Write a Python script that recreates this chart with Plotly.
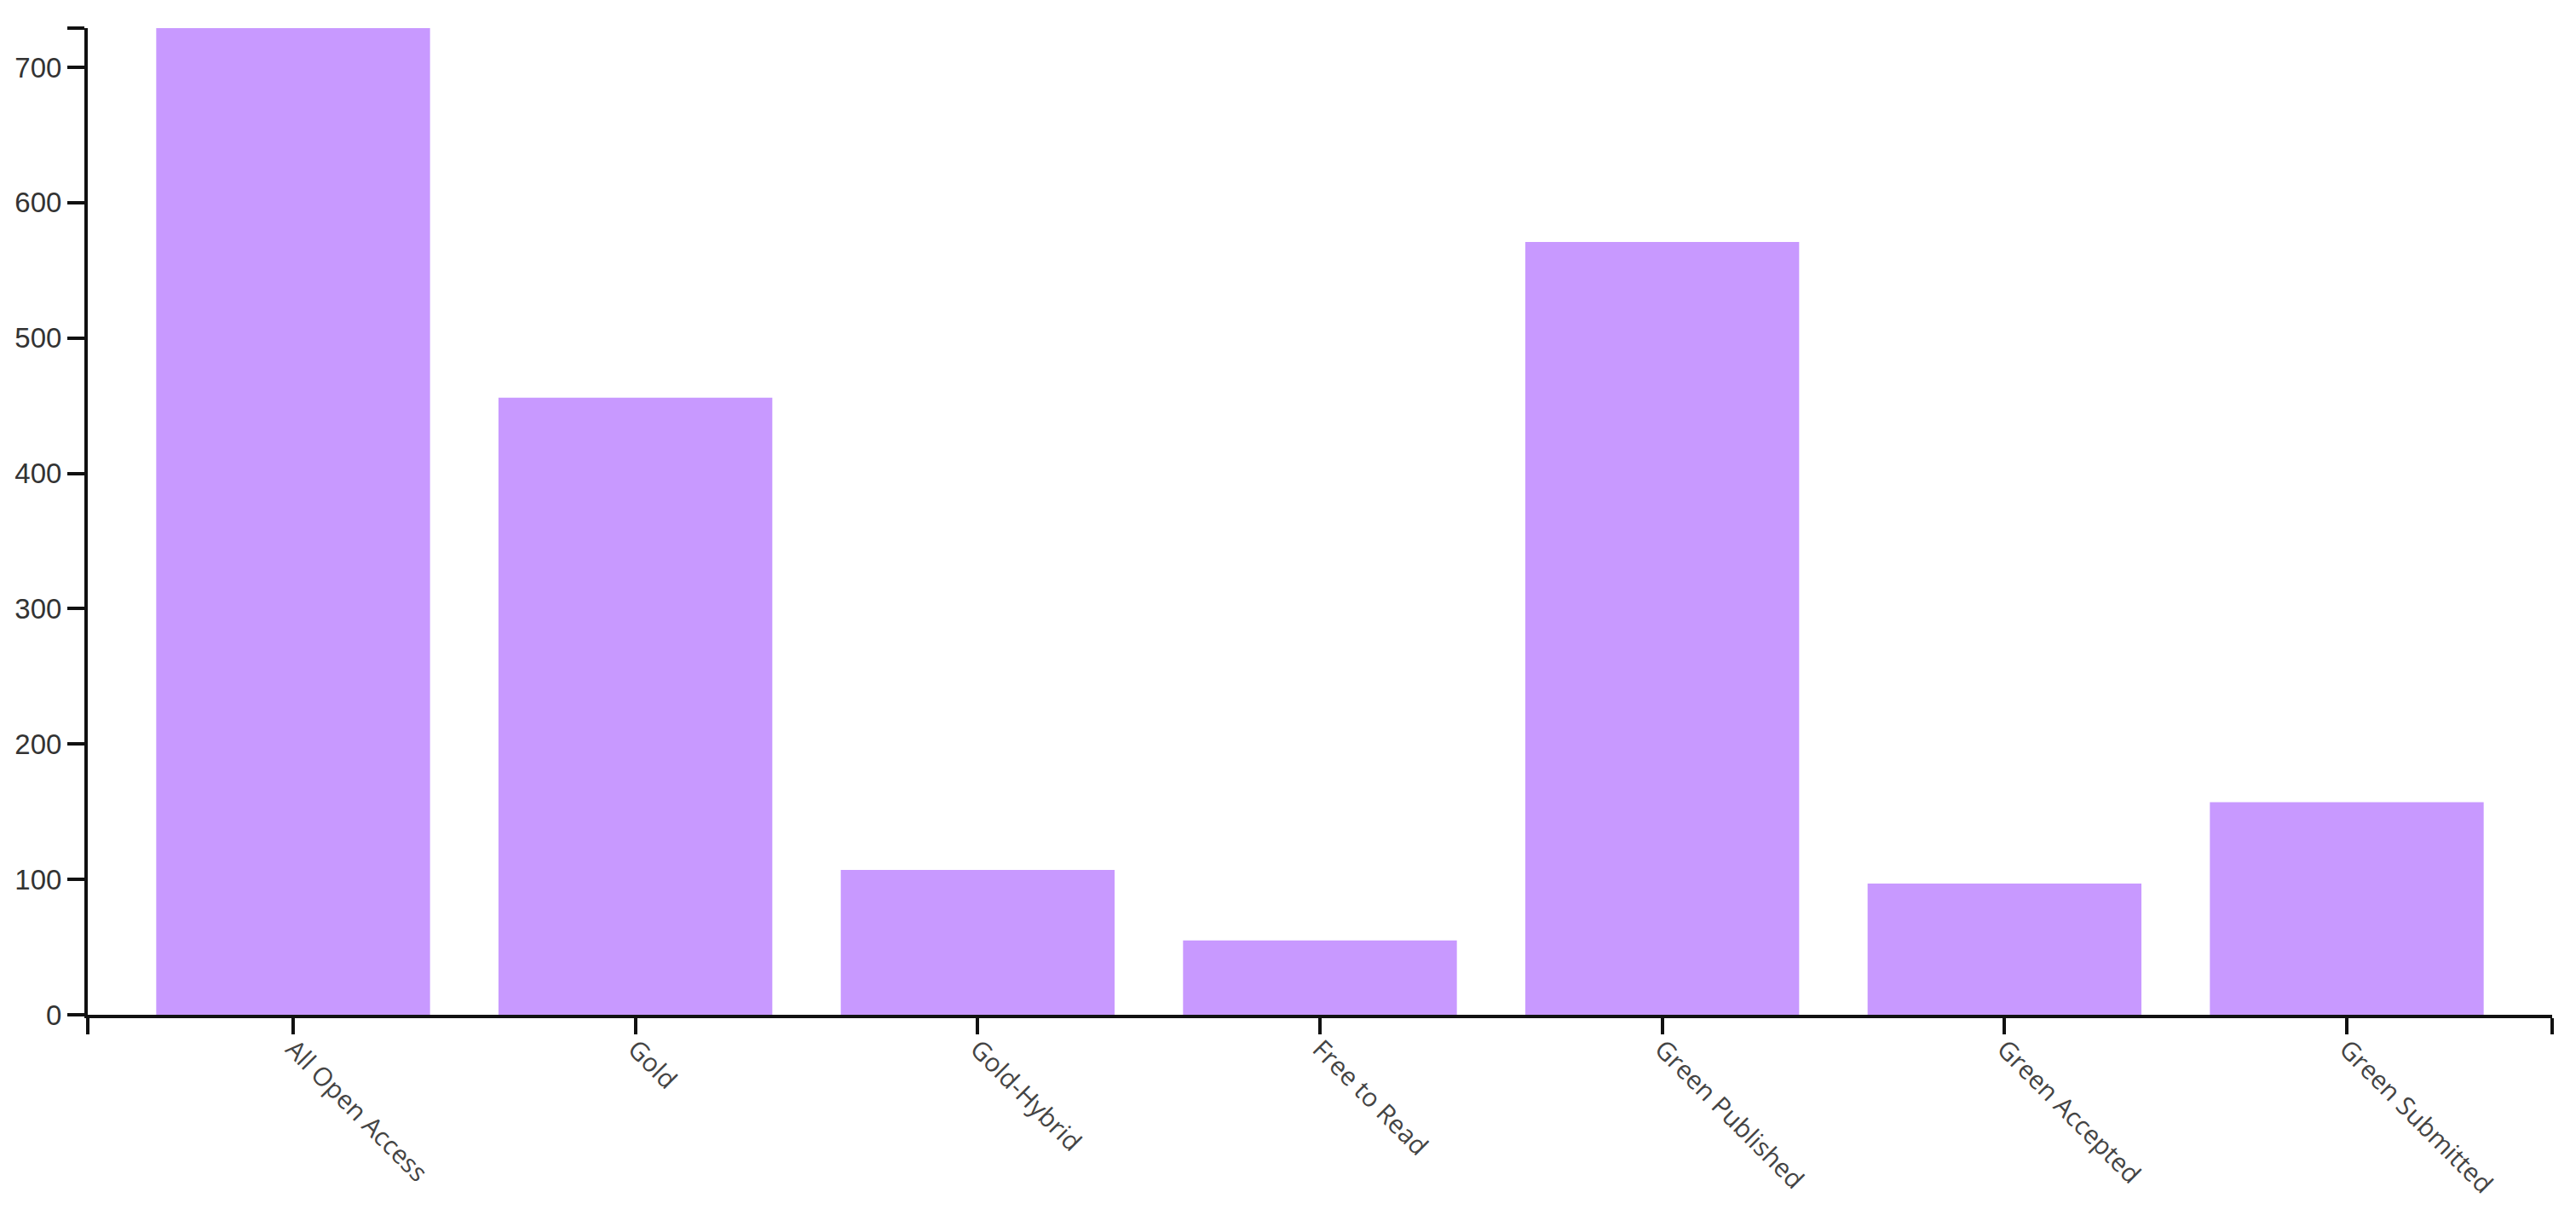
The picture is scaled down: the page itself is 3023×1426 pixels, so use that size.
import plotly.graph_objects as go

categories = ["All Open Access", "Gold", "Gold-Hybrid", "Free to Read",
              "Green Published", "Green Accepted", "Green Submitted"]
values = [729, 456, 107, 55, 571, 97, 157]
y_tick_values = [0, 100, 200, 300, 400, 500, 600, 700]

positions = list(range(len(categories)))
pad = 0.6
x_lo, x_hi = positions[0] - pad, positions[-1] + pad
y_max = max(values)

fig = go.Figure(go.Bar(
    x=positions, y=values,
    marker=dict(color="#c899ff", line=dict(width=0)),
    width=0.8, hoverinfo="x+y",
))

fig.update_layout(
    width=3023, height=1426, autosize=False,
    margin=dict(l=103, r=28, t=33, b=235, pad=0),
    plot_bgcolor="white", paper_bgcolor="white",
    showlegend=False,
)

fig.update_xaxes(
    range=[x_lo, x_hi],
    automargin=False,
    tickmode="array",
    tickvals=[x_lo] + positions + [x_hi],
    ticktext=[""] + categories + [""],
    tickangle=45,
    ticklabelstandoff=-12,
    ticks="outside", ticklen=19, tickwidth=3.5, tickcolor="#111",
    showline=True, linecolor="#111", linewidth=3.5,
    showgrid=False, zeroline=False,
    tickfont=dict(family="Open Sans", size=30, color="#444"),
)

fig.update_yaxes(
    range=[0, y_max],
    automargin=False,
    tickmode="array",
    tickvals=y_tick_values + [y_max],
    ticktext=[str(v) for v in y_tick_values] + [""],
    ticks="outside", ticklen=20, tickwidth=3.5, tickcolor="#111",
    showline=True, linecolor="#111", linewidth=4,
    showgrid=False, zeroline=False,
    tickfont=dict(family="Liberation Sans", size=33, color="#333"),
)

fig.write_html(
    "out.html",
    config={"displayModeBar": False},
    post_script="document.body.style.margin='0';document.body.style.overflow='hidden';",
)
